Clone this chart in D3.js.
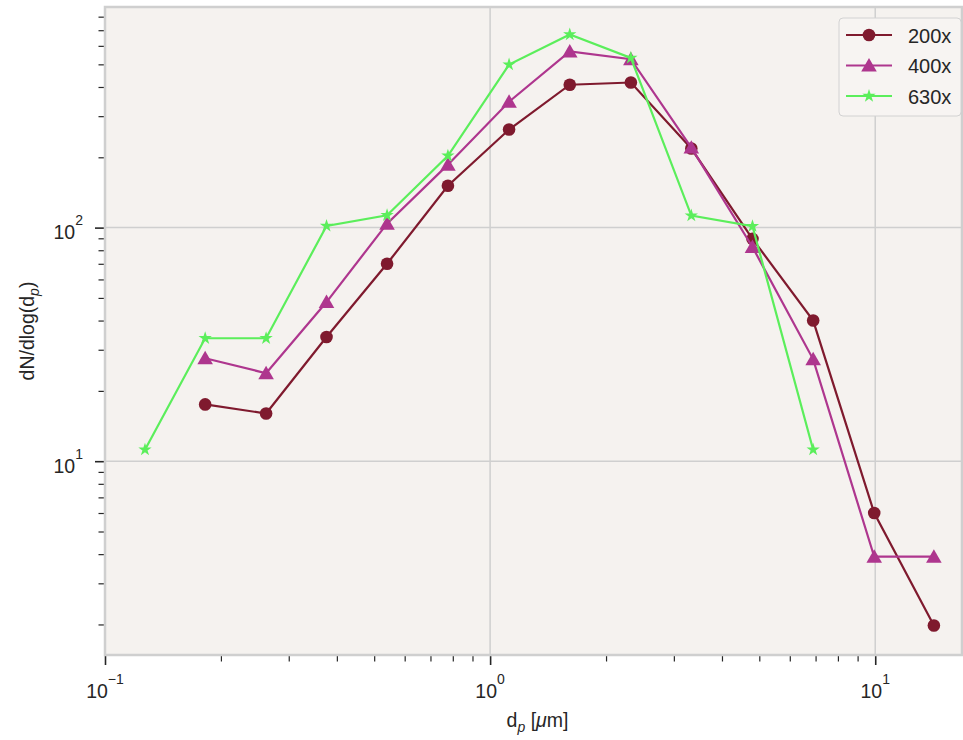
<!DOCTYPE html>
<html>
<head>
<meta charset="utf-8">
<script src="https://cdn.jsdelivr.net/npm/d3@7"></script>
<style>
  body { margin: 0; background: #fff; }
  svg { font-family: "Liberation Sans", Arial, sans-serif; }
</style>
</head>
<body>
<div id="chart"></div>
<script>
// particle diameter bins (um)
const diameters = [0.127, 0.182, 0.262, 0.376, 0.54, 0.777, 1.12, 1.61, 2.32, 3.33, 4.8, 6.9, 9.94, 14.2];

// dN/dlog(dp) per magnification, null = no point
const mag200 = [null, 17.5, 16.0, 34, 70, 151, 263, 409, 418, 218, 89.5, 40, 6.0, 1.98];
const mag400 = [null, 27.6, 23.8, 48, 104, 186, 346, 568, 526, 220, 82.6, 27.3, 3.9, 3.9];
const mag630 = [11.2, 33.6, 33.6, 101.7, 113, 203, 499, 671, 533, 112.6, 101.4, 11.2, null, null];

const seriesNames = ["200x", "400x", "630x"];
const seriesColors = ["#7f1a2e", "#ae368e", "#5bee5b"];
const seriesMarkers = ["circle", "triangle", "star"];

const xTicks = [0.1, 1, 10];
const yTicks = [10, 100];
const xExp = ["\u22121", "0", "1"];
const yExp = ["1", "2"];

const W = 963, H = 740;
const MARGIN = { top: 7, right: 1, bottom: 85, left: 105 };
const width = W - MARGIN.left - MARGIN.right;
const height = H - MARGIN.top - MARGIN.bottom;

const svg = d3.select("#chart").append("svg")
    .attr("width", W).attr("height", H);

const g = svg.append("g")
    .attr("transform", `translate(${MARGIN.left},${MARGIN.top})`);

const x = d3.scaleLog().domain([0.1, 16.8]).range([0, width]);
const y = d3.scaleLog().domain([1.48, 880]).range([height, 0]);

// background
g.append("rect")
    .attr("width", width).attr("height", height)
    .attr("fill", "#f5f2ef");

// grid
g.selectAll(".xgrid").data(xTicks.filter(d => d > 0.1)).enter()
    .append("line")
    .attr("x1", d => x(d)).attr("x2", d => x(d))
    .attr("y1", 0).attr("y2", height)
    .attr("stroke", "#cfcfcf").attr("stroke-width", 1.5);
g.selectAll(".ygrid").data(yTicks).enter()
    .append("line")
    .attr("x1", 0).attr("x2", width)
    .attr("y1", d => y(d)).attr("y2", d => y(d))
    .attr("stroke", "#cfcfcf").attr("stroke-width", 1.5);

// minor tick values
function minors(lo, hi) {
    const out = [];
    for (let e = Math.floor(Math.log10(lo)); e <= Math.ceil(Math.log10(hi)); e++) {
        for (let m = 2; m <= 9; m++) {
            const v = m * Math.pow(10, e);
            if (v >= lo && v <= hi) out.push(v);
        }
    }
    return out;
}

// x axis
const xAxis = g.append("g").attr("transform", `translate(0,${height})`);
xAxis.call(d3.axisBottom(x).tickValues(xTicks).tickSize(10).tickFormat(""))
    .call(s => s.select(".domain").remove())
    .call(s => s.selectAll(".tick line").attr("stroke", "#262626").attr("stroke-width", 1.6));
xAxis.append("g")
    .call(d3.axisBottom(x).tickValues(minors(0.1, 16.8)).tickSize(6.5).tickFormat(""))
    .call(s => s.select(".domain").remove())
    .call(s => s.selectAll(".tick line").attr("stroke", "#262626").attr("stroke-width", 1.2));

// y axis
const yAxis = g.append("g");
yAxis.call(d3.axisLeft(y).tickValues(yTicks).tickSize(10).tickFormat(""))
    .call(s => s.select(".domain").remove())
    .call(s => s.selectAll(".tick line").attr("stroke", "#262626").attr("stroke-width", 1.6));
yAxis.append("g")
    .call(d3.axisLeft(y).tickValues(minors(1.48, 880)).tickSize(6.5).tickFormat(""))
    .call(s => s.select(".domain").remove())
    .call(s => s.selectAll(".tick line").attr("stroke", "#262626").attr("stroke-width", 1.2));

// tick labels with superscripts
xTicks.forEach((v, i) => {
    const t = g.append("text")
        .attr("x", x(v)).attr("y", height + 43)
        .attr("text-anchor", "middle")
        .attr("font-size", 19.5).attr("fill", "#262626");
    t.append("tspan").text("10");
    t.append("tspan").attr("dy", -14).attr("font-size", 14).text(xExp[i]);
});
yTicks.forEach((v, i) => {
    const t = g.append("text")
        .attr("x", -22).attr("y", y(v) + 11.5)
        .attr("text-anchor", "end")
        .attr("font-size", 19.5).attr("fill", "#262626");
    t.append("tspan").text("10");
    t.append("tspan").attr("dy", -14).attr("font-size", 14).text(yExp[i]);
});

// frame
g.append("rect")
    .attr("width", width).attr("height", height)
    .attr("fill", "none")
    .attr("stroke", "#cfcfcf").attr("stroke-width", 2.5);

// axis labels
const xl = svg.append("text")
    .attr("x", MARGIN.left + width / 2 + 4).attr("y", 727)
    .attr("text-anchor", "middle").attr("font-size", 19.5).attr("fill", "#262626");
xl.append("tspan").text("d");
xl.append("tspan").attr("dy", 5).attr("font-size", 14).attr("font-style", "italic").text("p");
xl.append("tspan").attr("dy", -5).text(" [");
xl.append("tspan").attr("font-style", "italic").text("\u03bc");
xl.append("tspan").text("m]");

const yl = svg.append("text")
    .attr("transform", `translate(34,${MARGIN.top + height / 2}) rotate(-90)`)
    .attr("text-anchor", "middle").attr("font-size", 19.5).attr("fill", "#262626");
yl.append("tspan").text("dN/dlog(d");
yl.append("tspan").attr("dy", 5).attr("font-size", 14).attr("font-style", "italic").text("p");
yl.append("tspan").attr("dy", -5).text(")");

// markers
const symbolFor = {
    circle: d3.symbol().type(d3.symbolCircle).size(125),
    triangle: d3.symbol().type(d3.symbolTriangle).size(105),
    star: d3.symbol().type(d3.symbolStar).size(55)
};

const plot = g.append("g");
const allSeries = [mag200, mag400, mag630];
allSeries.forEach((vals, i) => {
    const pts = diameters.map((d, j) => ({ d, v: vals[j] })).filter(p => p.v != null);
    const line = d3.line().x(p => x(p.d)).y(p => y(p.v));
    plot.append("path")
        .datum(pts)
        .attr("d", line)
        .attr("fill", "none")
        .attr("stroke", seriesColors[i])
        .attr("stroke-width", 2.2);
    plot.selectAll(null).data(pts).enter()
        .append("path")
        .attr("d", symbolFor[seriesMarkers[i]])
        .attr("transform", p => `translate(${x(p.d)},${y(p.v) + (seriesMarkers[i] === "triangle" ? 1.5 : 0)})`)
        .attr("fill", seriesColors[i]);
});

// legend
const lg = svg.append("g").attr("transform", "translate(839,18)");
lg.append("rect")
    .attr("width", 122).attr("height", 98)
    .attr("rx", 4)
    .attr("fill", "#f7f4f2")
    .attr("stroke", "#d2d2d2").attr("stroke-width", 1);
seriesNames.forEach((name, i) => {
    const row = lg.append("g").attr("transform", `translate(0,${17 + i * 30.5})`);
    row.append("line")
        .attr("x1", 7).attr("x2", 53)
        .attr("stroke", seriesColors[i]).attr("stroke-width", 2.2);
    row.append("path")
        .attr("d", symbolFor[seriesMarkers[i]])
        .attr("transform", `translate(30,${seriesMarkers[i] === "triangle" ? 1.5 : 0})`)
        .attr("fill", seriesColors[i]);
    row.append("text")
        .attr("x", 69).attr("y", 7.5)
        .attr("font-size", 20).attr("fill", "#262626")
        .text(name);
});
</script>
</body>
</html>
